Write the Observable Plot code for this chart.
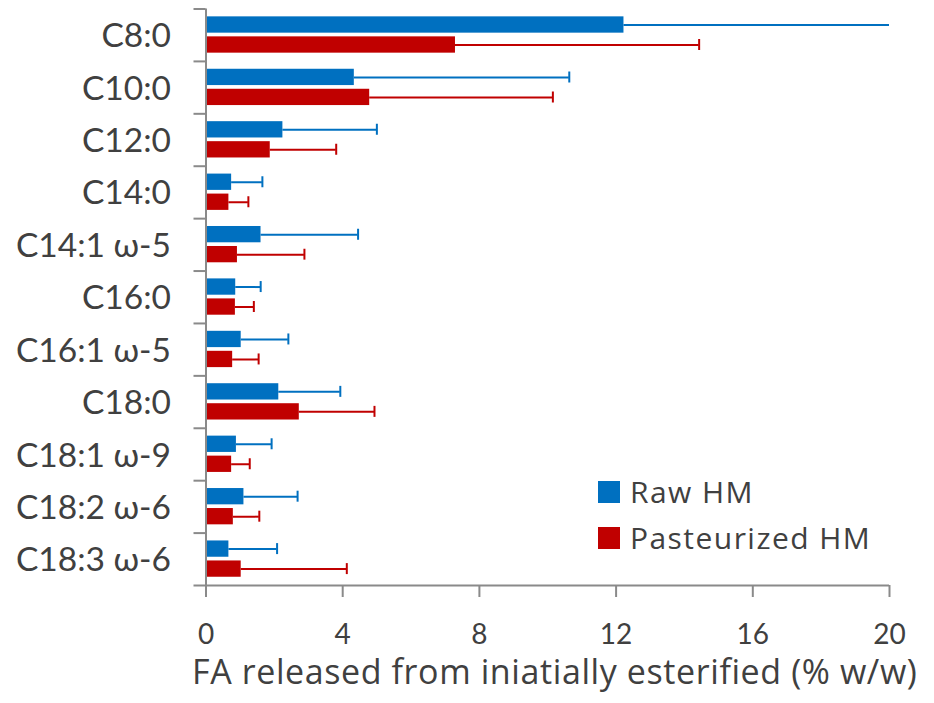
<!DOCTYPE html>
<html>
<head>
<meta charset="utf-8">
<script src="https://cdn.jsdelivr.net/npm/d3@7"></script>
<script src="https://cdn.jsdelivr.net/npm/@observablehq/plot@0.6"></script>
<style>
  html, body { margin: 0; padding: 0; background: #fff; }
  #wrap { position: relative; width: 934px; height: 703px; font-family: Lato, "Open Sans", sans-serif; }
  #legend { position: absolute; left: 598px; top: 469px; color: #404040; font-family: "Open Sans", Lato, sans-serif; font-size: 30px; letter-spacing: 1.45px; line-height: 46px; }
  #legend .row { display: flex; align-items: center; height: 46.3px; }
  #legend .sw { width: 22px; height: 22px; margin-right: 10px; }
</style>
</head>
<body>
<div id="wrap"></div>
<script>
const categories = ["C8:0", "C10:0", "C12:0", "C14:0", "C14:1 ω-5", "C16:0", "C16:1 ω-5", "C18:0", "C18:1 ω-9", "C18:2 ω-6", "C18:3 ω-6"];
const series = ["Raw HM", "Pasteurized HM"];
const rawMean = [12.23, 4.34, 2.25, 0.75, 1.61, 0.87, 1.03, 2.13, 0.89, 1.11, 0.67];
const rawErr  = [8.8, 6.29, 2.75, 0.90, 2.84, 0.73, 1.38, 1.80, 1.03, 1.57, 1.41];
const pastMean = [7.30, 4.79, 1.88, 0.67, 0.92, 0.86, 0.78, 2.73, 0.75, 0.80, 1.03];
const pastErr  = [7.13, 5.36, 1.93, 0.57, 1.96, 0.54, 0.76, 2.20, 0.53, 0.76, 3.09];
const xTicks = [0, 4, 8, 12, 16, 20];
const colors = ["#0070C0", "#C00000"];
const xTitle = "FA released from iniatially esterified (% w/w)";

const raw = categories.map((c, i) => ({cat: c, series: series[0], value: rawMean[i], err: rawErr[i]}));
const past = categories.map((c, i) => ({cat: c, series: series[1], value: pastMean[i], err: pastErr[i]}));

const W = 934, H = 703, mT = 8.5, mB = 118, mL = 205.5, mR = 45;
const step = (H - mT - mB) / categories.length;
const barH = 16.3, capH = 11;
const barInset = (step - barH) / 2, capInset = (step - capH) / 2;
const gray = "#8a8a8a", text = "#404040";

function seriesMarks(data, color, dy) {
  return [
    Plot.barX(data, {x: "value", y: "cat", fill: color, insetTop: barInset, insetBottom: barInset, dy}),
    Plot.ruleY(data, {y: "cat", x1: "value", x2: d => d.value + d.err, stroke: color, strokeWidth: 2, dy, clip: true}),
    Plot.tickX(data, {x: d => d.value + d.err, y: "cat", stroke: color, strokeWidth: 2, insetTop: capInset, insetBottom: capInset, dy, clip: true})
  ];
}

const chart = Plot.plot({
  width: W, height: H,
  marginTop: mT, marginBottom: mB, marginLeft: mL, marginRight: mR,
  style: {fontFamily: "Lato, 'Open Sans', sans-serif", background: "white", overflow: "visible"},
  x: {domain: [0, 20], label: null},
  y: {domain: categories, padding: 0, round: false, label: null},
  marks: [
    ...seriesMarks(raw, colors[0], -10.2),
    ...seriesMarks(past, colors[1], 9.8),
    Plot.ruleX([0], {stroke: gray, strokeWidth: 2}),
    Plot.ruleY(categories, {y: d => d, x1: 0, x2: 0, insetLeft: -12, dy: -step / 2, stroke: gray, strokeWidth: 2}),
    Plot.ruleY([categories[categories.length - 1]], {y: d => d, x1: 0, x2: 20, insetLeft: -12, dy: step / 2, stroke: gray, strokeWidth: 2}),
    Plot.axisX({ticks: xTicks, tickSize: 12, text: null, stroke: gray, strokeWidth: 2, label: null}),
    Plot.axisX({ticks: xTicks, tickSize: 0, tickPadding: 39, fill: text, fontSize: 28, label: null}),
    Plot.axisY({tickSize: 0, tickPadding: 35, fill: text, fontSize: 33.5, dy: 1.3, label: null}),
    Plot.text([xTitle], {text: d => d, frameAnchor: "bottom", lineAnchor: "middle", dy: 87.5, dx: 7, fontSize: 34, fill: text, fontFamily: "'Open Sans', Lato, sans-serif"})
  ]
});

d3.select(chart).selectAll("text")
  .filter(function () { return this.textContent === xTitle; })
  .style("letter-spacing", "0.6px");

const wrap = document.getElementById("wrap");
wrap.appendChild(chart);

const legend = document.createElement("div");
legend.id = "legend";
series.forEach((s, i) => {
  const row = document.createElement("div");
  row.className = "row";
  const sw = document.createElement("span");
  sw.className = "sw";
  sw.style.background = colors[i];
  const lab = document.createElement("span");
  lab.textContent = s;
  row.appendChild(sw);
  row.appendChild(lab);
  legend.appendChild(row);
});
wrap.appendChild(legend);
</script>
</body>
</html>
